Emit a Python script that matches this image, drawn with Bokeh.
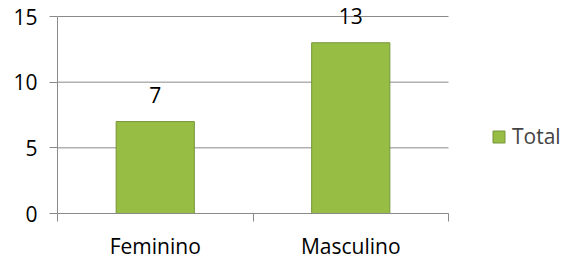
from bokeh.plotting import figure
from bokeh.models import (ColumnDataSource, Range1d, FixedTicker, LinearAxis,
                          Legend, LegendItem)
from bokeh.core.properties import value
from bokeh.embed import file_html
from bokeh.resources import INLINE

categories = ["Feminino", "Masculino"]
totals = [7, 13]
y_ticks = [0, 5, 10, 15]
series_name = "Total"

FONT = "Open Sans"
GRAY = "#8a8a8a"
FS = "21px"

n = len(categories)
xs = [i + 0.5 for i in range(n)]
src = ColumnDataSource(dict(x=xs, top=totals, lab=[str(v) for v in totals]))

# frame extends to the right and top edges so the legend and the value
# labels are not clipped; the plotting area proper is 391 x 197 px
x_end = n * 510 / 391
y_max = y_ticks[-1]
y_end = y_max * 213 / 197

p = figure(width=567, height=265, output_backend="svg", toolbar_location=None,
           x_range=Range1d(0, x_end), y_range=Range1d(0, y_end),
           min_border_left=57, min_border_right=0, min_border_top=0,
           min_border_bottom=52, x_axis_location=None, y_axis_location=None)
p.outline_line_color = None
p.background_fill_color = "white"
p.border_fill_color = "white"
p.xgrid.visible = False
p.ygrid.visible = False

# horizontal gridlines over the category area
p.segment(x0=0, x1=n, y0=y_ticks, y1=y_ticks, line_color=GRAY, line_width=1)

# y axis
yax = LinearAxis(ticker=FixedTicker(ticks=y_ticks), bounds=(0, y_max))
yax.axis_line_color = GRAY
yax.major_tick_line_color = GRAY
yax.major_tick_out = 8
yax.major_tick_in = 0
yax.minor_tick_line_color = None
yax.major_label_text_font = FONT
yax.major_label_text_font_size = FS
yax.major_label_text_color = "black"
yax.major_label_standoff = 12
p.add_layout(yax, "left")

# x axis: tick marks at category boundaries
xax = LinearAxis(ticker=FixedTicker(ticks=list(range(n + 1))), bounds=(0, n))
xax.axis_line_color = GRAY
xax.major_tick_line_color = GRAY
xax.major_tick_out = 8
xax.major_tick_in = 0
xax.minor_tick_line_color = None
xax.major_label_text_font_size = "1px"
xax.major_label_text_color = None
xax.major_label_standoff = 0
p.add_layout(xax, "below")

# x axis: category labels
lax = LinearAxis(ticker=FixedTicker(ticks=xs),
                 major_label_overrides={x: c for x, c in zip(xs, categories)})
lax.axis_line_color = None
lax.major_tick_line_color = None
lax.minor_tick_line_color = None
lax.major_label_text_font = FONT
lax.major_label_text_font_size = FS
lax.major_label_text_color = "black"
lax.major_label_standoff = 4
p.add_layout(lax, "below")

bars = p.vbar(x="x", top="top", bottom=0, width=0.4, source=src,
              fill_color="#97bd45", line_color="#76963a", line_width=1)

p.text(x="x", y="top", text="lab", source=src, text_align="center",
       text_baseline="alphabetic", y_offset=-27,
       text_font=value(FONT), text_font_size=FS, text_color="black")

legend = Legend(items=[LegendItem(label=series_name, renderers=[bars])],
                location=(434, 63))
legend.border_line_color = None
legend.background_fill_alpha = 0
legend.glyph_width = 15
legend.glyph_height = 15
legend.label_text_font = FONT
legend.label_text_font_size = FS
legend.label_standoff = 6
legend.padding = 0
legend.margin = 0
p.add_layout(legend)

open("out.html", "w").write(file_html(p, INLINE))
